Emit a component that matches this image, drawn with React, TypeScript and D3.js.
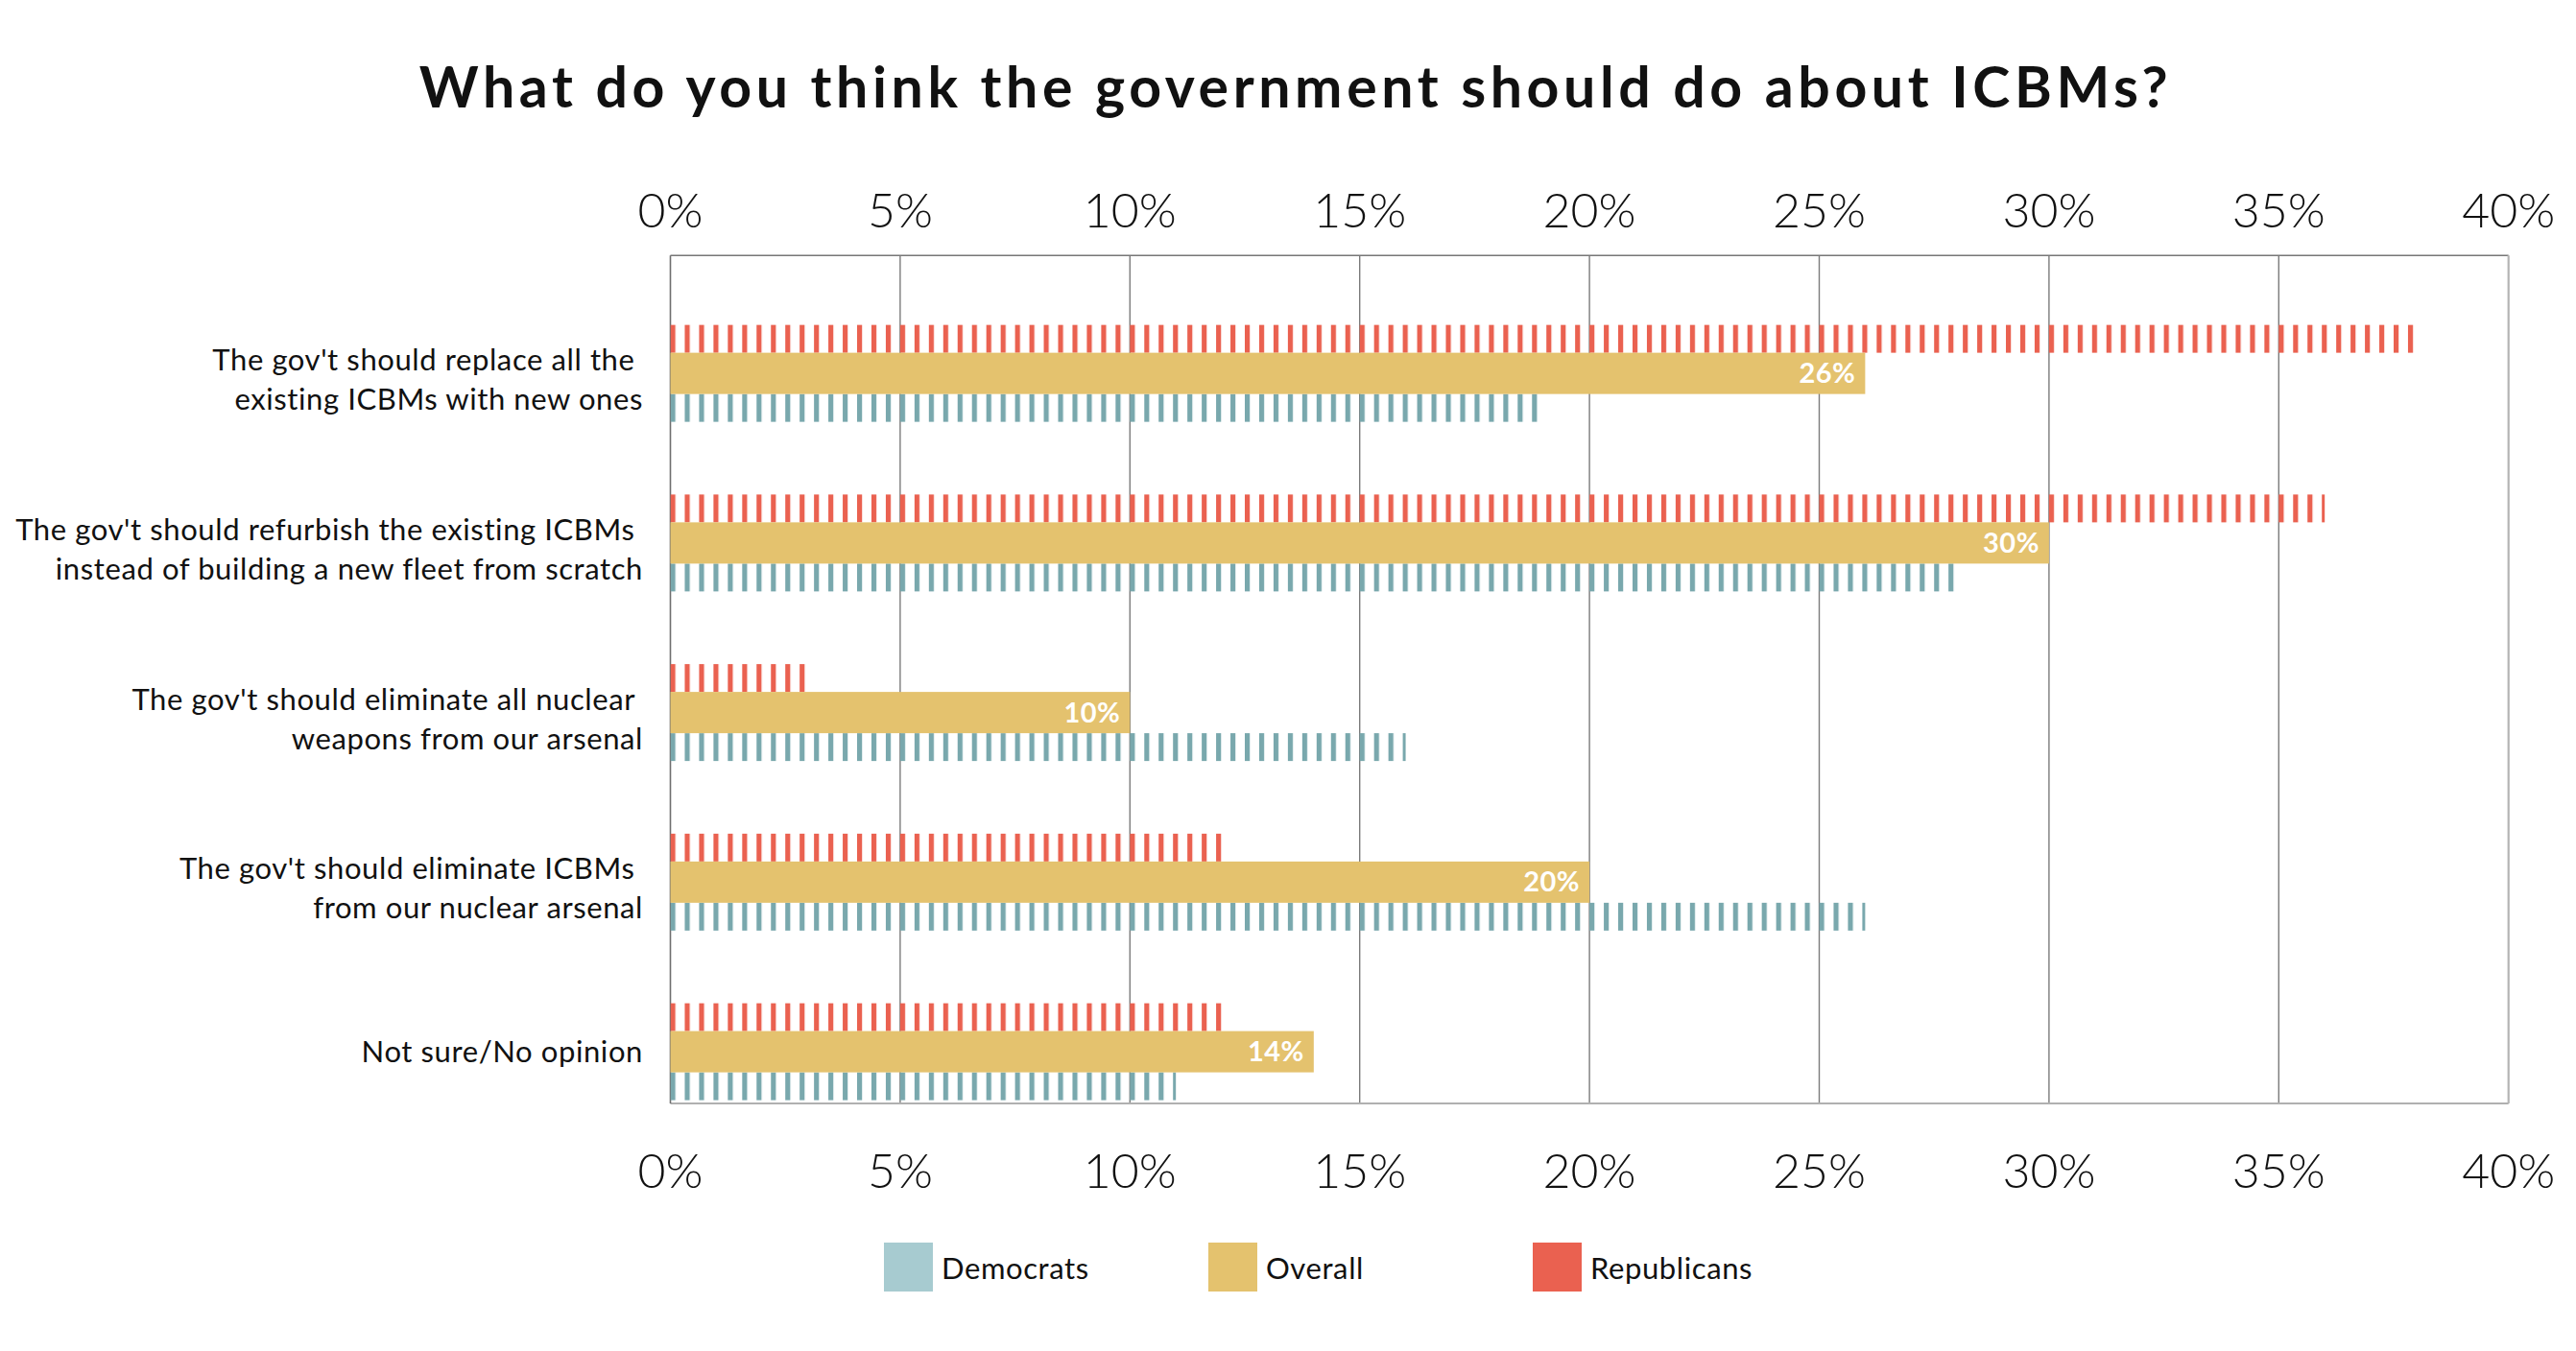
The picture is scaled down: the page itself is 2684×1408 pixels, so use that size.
import React from 'react';
import * as d3 from 'd3';

// chart data
const categories = [
  'replace',
  'refurbish',
  'eliminateAll',
  'eliminateICBMs',
  'notSure',
];
const categoryLines = [
  ["The gov't should replace all the ", 'existing ICBMs with new ones'],
  ["The gov't should refurbish the existing ICBMs ", 'instead of building a new fleet from scratch'],
  ["The gov't should eliminate all nuclear ", 'weapons from our arsenal'],
  ["The gov't should eliminate ICBMs ", 'from our nuclear arsenal'],
  ['Not sure/No opinion'],
];
const republicans = [38, 36, 3, 12, 12];
const overall = [26, 30, 10, 20, 14];
const democrats = [19, 28, 16, 26, 11];
const tickValues = [0, 5, 10, 15, 20, 25, 30, 35, 40];
const seriesNames = ['Democrats', 'Overall', 'Republicans'];

const W = 2684;
const H = 1408;
const FONT = 'Lato, "Open Sans", sans-serif';

const RED = '#ea6150';
const GOLD = '#e4c26e';
const TEAL = '#79a8ad';
const TEAL_LIGHT = '#a7cbd0';
const legendColors = [TEAL_LIGHT, GOLD, RED];

export default function App() {
  const x = d3.scaleLinear().domain([0, 40]).range([698.5, 2613.7]);
  const y = d3.scaleBand<string>().domain(categories).range([266.3, 1150]);
  const top = y.range()[0];
  const bottom = y.range()[1];
  // centre of the gold bar inside each band
  const yc = (c: string) => (y(c) as number) + y.bandwidth() * 0.695;
  const stripe = (x(5) - x(0)) / 16;
  const goldH = 43;
  const sideH = 29;

  return (
    <svg
      width={W}
      height={H}
      style={{ position: 'absolute', left: 0, top: 0, background: '#fff' }}
      fontFamily={FONT}
    >
      <defs>
        <pattern id="repStripes" patternUnits="userSpaceOnUse" x={x(0)} y={0} width={stripe} height={20}>
          <rect width={5.2} height={20} fill={RED} />
        </pattern>
        <pattern id="demStripes" patternUnits="userSpaceOnUse" x={x(0)} y={0} width={stripe} height={20}>
          <rect width={5.2} height={20} fill={TEAL} />
        </pattern>
      </defs>

      <text x={1350} y={112} textAnchor="middle" fontSize={59} fontWeight={700} fill="#111" letterSpacing={4.6}>
        What do you think the government should do about ICBMs?
      </text>

      {/* gridlines */}
      {tickValues.slice(1, -1).map((t) => (
        <line key={t} x1={x(t)} x2={x(t)} y1={top} y2={bottom} stroke="#7b7b7b" strokeWidth={1.4} />
      ))}
      <line x1={x(0)} x2={x(40)} y1={top} y2={top} stroke="#777" strokeWidth={1.6} />
      <line x1={x(0)} x2={x(40)} y1={bottom} y2={bottom} stroke="#b0b0b0" strokeWidth={2} />
      <line x1={x(40)} x2={x(40)} y1={top} y2={bottom} stroke="#b4b4b4" strokeWidth={2.2} />
      <line x1={x(0)} x2={x(0)} y1={top} y2={bottom} stroke="#6f6f6f" strokeWidth={1.6} />

      {/* axis tick labels, top and bottom */}
      {tickValues.map((t) => (
        <g key={t} fontSize={50} fontWeight={300} fill="#111" textAnchor="middle">
          <text x={x(t)} y={237}>{t}%</text>
          <text x={x(t)} y={1238}>{t}%</text>
        </g>
      ))}

      {/* bars */}
      {categories.map((c, i) => {
        const cy = yc(c);
        return (
          <g key={c}>
            <rect
              x={x(0)}
              y={cy - goldH / 2 - sideH}
              width={x(republicans[i]) - x(0)}
              height={sideH}
              fill="url(#repStripes)"
            />
            <rect
              x={x(0)}
              y={cy + goldH / 2}
              width={x(democrats[i]) - x(0)}
              height={sideH}
              fill="url(#demStripes)"
            />
            <rect x={x(0)} y={cy - goldH / 2} width={x(overall[i]) - x(0)} height={goldH} fill={GOLD} />
            <text
              x={x(overall[i]) - 10}
              y={cy + 10}
              textAnchor="end"
              fontSize={29}
              fontWeight={700}
              fill="#fff"
              letterSpacing={0.5}
            >
              {overall[i]}%
            </text>
          </g>
        );
      })}

      {/* category labels */}
      {categories.map((c, i) => {
        const cy = yc(c);
        const lines = categoryLines[i];
        const base = lines.length === 1 ? [cy + 11] : [cy - 3, cy + 38];
        return (
          <g key={c} fontSize={31} fill="#111" textAnchor="end" letterSpacing={0.6}>
            {lines.map((l, j) => (
              <text key={j} x={670} y={base[j]} xmlSpace="preserve">
                {l}
              </text>
            ))}
          </g>
        );
      })}

      {/* legend */}
      {seriesNames.map((s, i) => (
        <g key={s} transform={`translate(${921 + i * 338}, 1295)`}>
          <rect width={51} height={51} fill={legendColors[i]} />
          <text x={60} y={38} fontSize={31} fill="#111" letterSpacing={0.6}>
            {s}
          </text>
        </g>
      ))}
    </svg>
  );
}
